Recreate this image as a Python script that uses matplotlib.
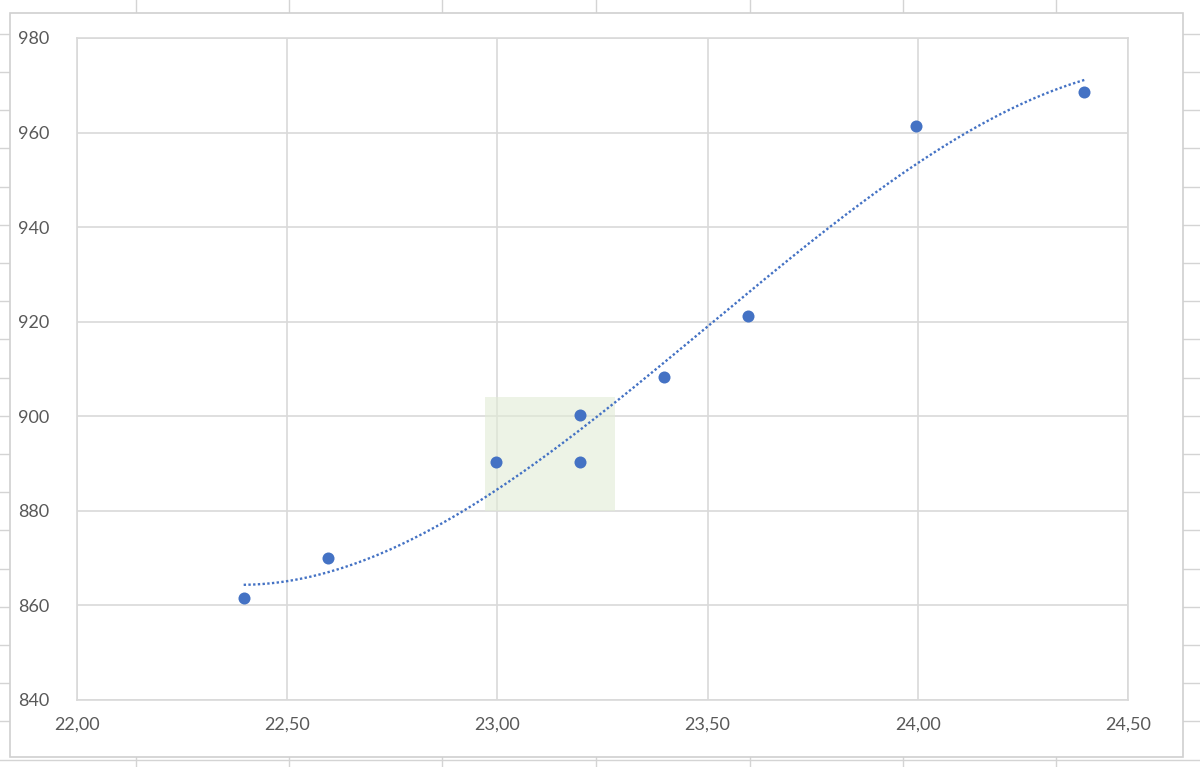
import numpy as np
import matplotlib.pyplot as plt
import matplotlib.transforms as mtransforms
from matplotlib.patches import Rectangle

# Данные точек
x_vals = [22.40, 22.60, 23.00, 23.20, 23.20, 23.40, 23.60, 24.00, 24.40]
y_vals = [861.5, 870.1, 890.3, 900.2, 890.3, 908.3, 921.3, 961.4, 968.5]
x_ticks = [22.00, 22.50, 23.00, 23.50, 24.00, 24.50]
y_ticks = [840, 860, 880, 900, 920, 940, 960, 980]

# выделенная область (зелёный прямоугольник)
box_x = [22.97, 23.28]
box_y = [880, 904]

blue = "#4472C4"
grid_c = "#d9d9d9"
text_c = "#595959"

plt.rcParams["font.family"] = ["Lato", "DejaVu Sans"]

fig = plt.figure(figsize=(12, 7.67), dpi=100)

# фон листа Excel: линии ячеек
W, H = 1200, 767
for xc in [136, 289, 442, 596, 750, 903, 1056]:
    fig.add_artist(plt.Line2D([xc / W, xc / W], [0, 1], color="#d4d4d4", lw=1.0, zorder=0))
for k in range(-1, 20):
    yc = 33.8 + 38.2 * k
    fig.add_artist(plt.Line2D([0, 1], [1 - yc / H, 1 - yc / H], color="#d4d4d4", lw=1.0, zorder=0))

# область диаграммы
fig.add_artist(Rectangle((10 / W, 1 - 757 / H), (1183 - 10) / W, (757 - 13) / H,
                         facecolor="white", edgecolor="#d0d0d0", lw=1.2, zorder=1))

ax = fig.add_axes([77 / W, 1 - 700 / H, (1128 - 77) / W, (700 - 38) / H], zorder=2)
ax.patch.set_alpha(0)

ax.set_xlim(22.0, 24.5)
ax.set_ylim(840, 980)
ax.set_xticks(x_ticks)
ax.set_yticks(y_ticks)
ax.set_xticklabels([f"{t:.2f}".replace(".", ",") for t in x_ticks])
ax.set_yticklabels([str(t) for t in y_ticks])
ax.grid(True, color=grid_c, lw=1.2, zorder=0)
ax.set_axisbelow(True)
for s in ax.spines.values():
    s.set_color(grid_c)
    s.set_linewidth(1.2)
ax.tick_params(length=0, labelsize=13, colors=text_c, pad=12)
ax.tick_params(axis="y", pad=20)

ax.add_patch(Rectangle((box_x[0], box_y[0]), box_x[1] - box_x[0], box_y[1] - box_y[0],
                       facecolor="#e2ecd6", alpha=0.6, edgecolor="none", zorder=1))

# небольшой сдвиг маркеров влево, как в Excel
shift = ax.transData + mtransforms.ScaledTranslation(-1.5 / 100, 0, fig.dpi_scale_trans)

# полиномиальный тренд 3-й степени
coef = np.polyfit(x_vals, y_vals, 3)
xt = np.linspace(min(x_vals), max(x_vals), 300)
ax.plot(xt, np.polyval(coef, xt), color=blue, lw=1.7, linestyle=(0, (1, 1)),
        dash_capstyle="butt", zorder=3, transform=shift)

ax.scatter(x_vals, y_vals, s=75, color=blue, zorder=4, linewidths=0, transform=shift)

fig.savefig("out.png", dpi=100)
